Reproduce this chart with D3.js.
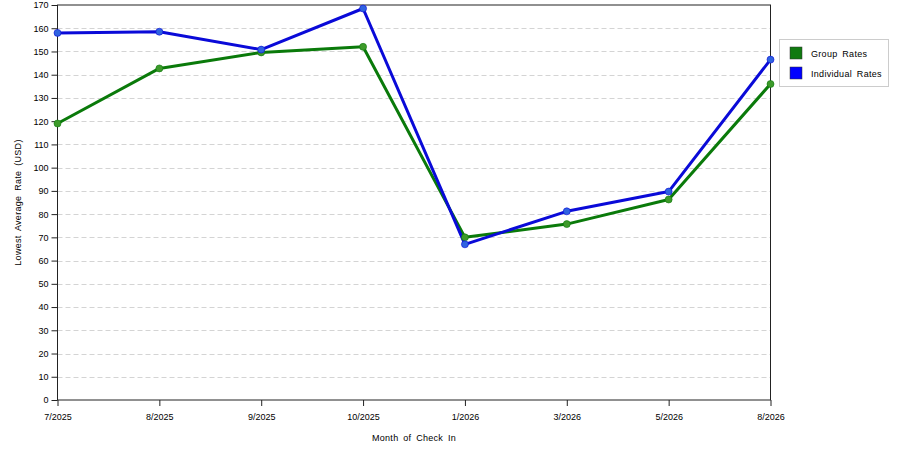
<!DOCTYPE html>
<html>
<head>
<meta charset="utf-8">
<script src="https://cdn.jsdelivr.net/npm/d3@7"></script>
<style>
  body { margin: 0; background: #fff; }
  text { font-family: "Liberation Sans", Arial, sans-serif; font-size: 9px; fill: #000; }
  .title, .legendEntry text { letter-spacing: 0.3px; word-spacing: 2px; }
</style>
</head>
<body>
<svg id="chart" width="900" height="450"></svg>
<script>
let months = ["7/2025", "8/2025", "9/2025", "10/2025", "1/2026", "3/2026", "5/2026", "8/2026"]
let group_rates = [119, 142.7, 149.6, 152, 70, 75.7, 86.3, 136]
let individual_rates = [158, 158.5, 150.8, 168.5, 67, 81.2, 89.7, 146.5]
let y_ticks = d3.range(0, 171, 10)

let series = [
    {name: "Group Rates", values: group_rates, color: "#0a7a0a", dot: "#3d9a2a", swatch: "#107a10"},
    {name: "Individual Rates", values: individual_rates, color: "#0a0ad8", dot: "#2f63e0", swatch: "#0000ff"}
]

let svg = d3.select("#chart")
let pLeft = 57.5, pRight = 770.5, pTop = 5, pBottom = 400

var x = d3.scalePoint().domain(months).range([pLeft, pRight])
var y = d3.scaleLinear().domain([0, 170]).range([pBottom, pTop])

// grid lines
svg.append("g")
    .selectAll("line")
    .data(y_ticks.filter(d => d > 0 && d < 170))
    .enter()
    .append("line")
        .attr("x1", pLeft).attr("x2", pRight)
        .attr("y1", d => Math.round(y(d)) + 0.5)
        .attr("y2", d => Math.round(y(d)) + 0.5)
        .style("stroke", "#d4d4d4")
        .style("stroke-dasharray", "5,3")

// frame
svg.append("rect")
    .attr("x", pLeft).attr("y", pTop)
    .attr("width", pRight - pLeft).attr("height", pBottom - pTop)
    .style("fill", "none").style("stroke", "#222").style("stroke-width", 1)

// axes
let xAxis = svg.append("g")
    .attr("transform", "translate(0," + pBottom + ")")
    .call(d3.axisBottom(x).tickSize(6).tickPadding(8))
let yAxis = svg.append("g")
    .attr("transform", "translate(" + pLeft + ",0)")
    .call(d3.axisLeft(y).tickValues(y_ticks).tickSize(6).tickPadding(3))
xAxis.select(".domain").remove()
yAxis.select(".domain").remove()
svg.selectAll(".tick line").style("stroke", "#222")
svg.selectAll(".tick text").style("font-family", "'Liberation Sans', Arial, sans-serif").style("font-size", "9px").style("fill", "#000")

// lines
var line = d3.line()
    .x((d, i) => x(months[i]))
    .y(d => y(d))

series.forEach(function(s) {
    svg.append("path")
        .datum(s.values)
        .attr("d", line)
        .style("fill", "none")
        .style("stroke", s.color)
        .style("stroke-width", 3)
        .style("stroke-linejoin", "round")
})
series.forEach(function(s) {
    svg.append("g")
        .selectAll("circle")
        .data(s.values)
        .enter()
        .append("circle")
            .attr("cx", (d, i) => x(months[i]))
            .attr("cy", d => y(d))
            .attr("r", 3.5)
            .style("fill", s.dot)
            .style("stroke", s.color)
            .style("stroke-opacity", 0.6)
            .style("stroke-width", 1)
})

// axis titles
svg.append("text")
    .attr("class", "title")
    .attr("x", (pLeft + pRight) / 2)
    .attr("y", 441)
    .attr("text-anchor", "middle")
    .text("Month of Check In")
svg.append("text")
    .attr("class", "title")
    .attr("transform", "translate(21," + ((pTop + pBottom) / 2) + ") rotate(-90)")
    .attr("text-anchor", "middle")
    .text("Lowest Average Rate (USD)")

// legend
var legend = svg.append("g")
legend.append("rect")
    .attr("x", 779.5).attr("y", 39.5)
    .attr("width", 109).attr("height", 47)
    .style("fill", "#fff").style("stroke", "#ccc")

var entry = legend.selectAll("g.legendEntry")
    .data(series)
    .enter()
    .append("g").attr("class", "legendEntry")
entry.append("rect")
    .attr("x", 790).attr("y", (d, i) => 47 + i * 20)
    .attr("width", 12).attr("height", 12)
    .style("fill", d => d.swatch)
    .style("stroke", "#333").style("stroke-width", 0.5)
entry.append("text")
    .attr("x", 811).attr("y", (d, i) => 57 + i * 20)
    .text(d => d.name)
</script>
</body>
</html>
